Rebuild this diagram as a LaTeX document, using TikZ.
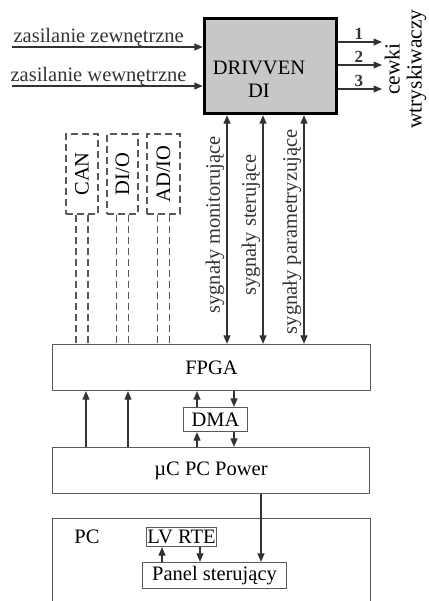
\documentclass[tikz,border=0pt]{standalone}
\usepackage{fontspec}
\setmainfont{Liberation Serif}
\usetikzlibrary{arrows.meta}

\begin{document}
\begin{tikzpicture}[x=1pt, y=-1pt,
        font=\fontsize{20.5}{23}\selectfont,
        every node/.style={inner sep=0pt},
        block/.style={draw=black!65, line width=1.3pt, rectangle},
        drvbox/.style={draw=black, line width=3.5pt, fill=black!22, rectangle},
        iobox/.style={draw=black!65, line width=1.1pt, dash pattern=on 7pt off 4pt, rectangle},
        ioline/.style={black!65, line width=1.1pt, dash pattern=on 7pt off 4pt},
        arr/.style={-{Triangle[length=8.5pt,width=7pt]}, line width=1.2pt, black!80},
        sig/.style={{Triangle[length=8.5pt,width=7pt]}-{Triangle[length=8.5pt,width=7pt]}, line width=1.2pt, black!80}]
        \useasboundingbox (0,0) rectangle (428,601);

        % --- DRIVVEN module ---
        \node[drvbox, minimum width=132pt, minimum height=95pt] (drv) at (270.5,66) {};
        \node[align=center] (drvtext) at (259,79) {DRIVVEN\\DI};

        % --- Supply inputs ---
        \coordinate (inZ) at (12,47);
        \coordinate (inW) at (12,86);
        \draw[arr] (inZ) -- (inZ -| drv.west)
            node[pos=0, anchor=base west, xshift=1pt, yshift=4pt] (lblZ) {zasilanie zewnętrzne};
        \draw[arr] (inW) -- (inW -| drv.west)
            node[pos=0, anchor=base west, xshift=-2pt, yshift=4.5pt] (lblW) {zasilanie wewnętrzne};

        % --- Outputs to injector coils ---
        \coordinate (out1) at (382,42);
        \coordinate (out2) at (382,65);
        \coordinate (out3) at (382,89);
        \draw[arr] (drv.east |- out1) -- (out1) node[pos=0.47, above, inner sep=1.5pt, font=\fontsize{17}{17}\bfseries] (num1) {1};
        \draw[arr] (drv.east |- out2) -- (out2) node[pos=0.47, above, inner sep=1.5pt, font=\fontsize{17}{17}\bfseries] (num2) {2};
        \draw[arr] (drv.east |- out3) -- (out3) node[pos=0.47, above, inner sep=1.5pt, font=\fontsize{17}{17}\bfseries] (num3) {3};
        \node[rotate=90, align=center, font=\fontsize{21.5}{22}\selectfont] (coils) at (405.5,69) {cewki\\wtryskiwaczy};

        % --- FPGA ---
        \node[block, minimum width=318pt, minimum height=46pt] (fpga) at (211.5,367.5) {FPGA};

        % --- Communication interfaces (dashed) ---
        \node[iobox, minimum width=32pt, minimum height=80pt] (can) at (82,174) {\rotatebox{90}{CAN}};
        \node[iobox, minimum width=31pt, minimum height=80pt] (dio) at (122.5,174) {\rotatebox{90}{DI/O}};
        \node[iobox, minimum width=33pt, minimum height=80pt] (adio) at (163.5,174) {\rotatebox{90}{AD/IO}};
        \foreach \io in {can, dio, adio} {
            \draw[ioline] ([xshift=-6pt]\io.south) -- ([xshift=-6pt]\io.south |- fpga.north);
            \draw[ioline] ([xshift=6pt]\io.south) -- ([xshift=6pt]\io.south |- fpga.north);
        }

        % --- Signals between FPGA and DRIVVEN ---
        \coordinate (sigM) at (227,0);
        \coordinate (sigS) at (263,0);
        \coordinate (sigP) at (304,0);
        \draw[sig] (sigM |- drv.south) -- (sigM |- fpga.north)
            node[pos=0.48, rotate=90, anchor=south, inner sep=2pt] (lblM) {sygnały monitorujące};
        \draw[sig] (sigS |- drv.south) -- (sigS |- fpga.north)
            node[pos=0.48, rotate=90, anchor=south, inner sep=2pt] (lblS) {sygnały sterujące};
        \draw[sig] (sigP |- drv.south) -- (sigP |- fpga.north)
            node[pos=0.51, rotate=90, anchor=south, inner sep=2pt] (lblP) {sygnały parametryzujące};

        % --- DMA and microcontroller ---
        \node[block, minimum width=64pt, minimum height=24pt] (dma) at (215.5,419.5) {DMA};
        \node[block, minimum width=317pt, minimum height=46pt] (uc) at (211,470.5) {µC PC Power};

        \coordinate (linkA) at (86,0);
        \coordinate (linkB) at (128,0);
        \coordinate (dmaUp) at (197,0);
        \coordinate (dmaDn) at (234,0);
        \draw[arr] (linkA |- uc.north) -- (linkA |- fpga.south);
        \draw[arr] (linkB |- uc.north) -- (linkB |- fpga.south);
        \draw[arr] (dmaUp |- dma.north) -- (dmaUp |- fpga.south);
        \draw[arr] (dmaDn |- fpga.south) -- (dmaDn |- dma.north);
        \draw[arr] (dmaUp |- uc.north) -- (dmaUp |- dma.south);
        \draw[arr] (dmaDn |- dma.south) -- (dmaDn |- uc.north);

        % --- PC ---
        \node[block, minimum width=318pt, minimum height=120pt, anchor=north] (pc) at (211.5,518) {};
        \node (pclbl) at (87,537) {PC};
        \node[block, minimum width=70pt, minimum height=19pt] (lv) at (181.5,537) {LV RTE};
        \node[block, minimum width=144pt, minimum height=26pt] (panel) at (214.5,575.5) {Panel sterujący};

        \coordinate (ucOut) at (261,0);
        \coordinate (lvUp) at (162,0);
        \coordinate (lvDn) at (200,0);
        \draw[arr] (ucOut |- uc.south) -- (ucOut |- panel.north);
        \draw[arr] (lvUp |- panel.north) -- (lvUp |- lv.south);
        \draw[arr] (lvDn |- lv.south) -- (lvDn |- panel.north);

    \end{tikzpicture}
\end{document}
